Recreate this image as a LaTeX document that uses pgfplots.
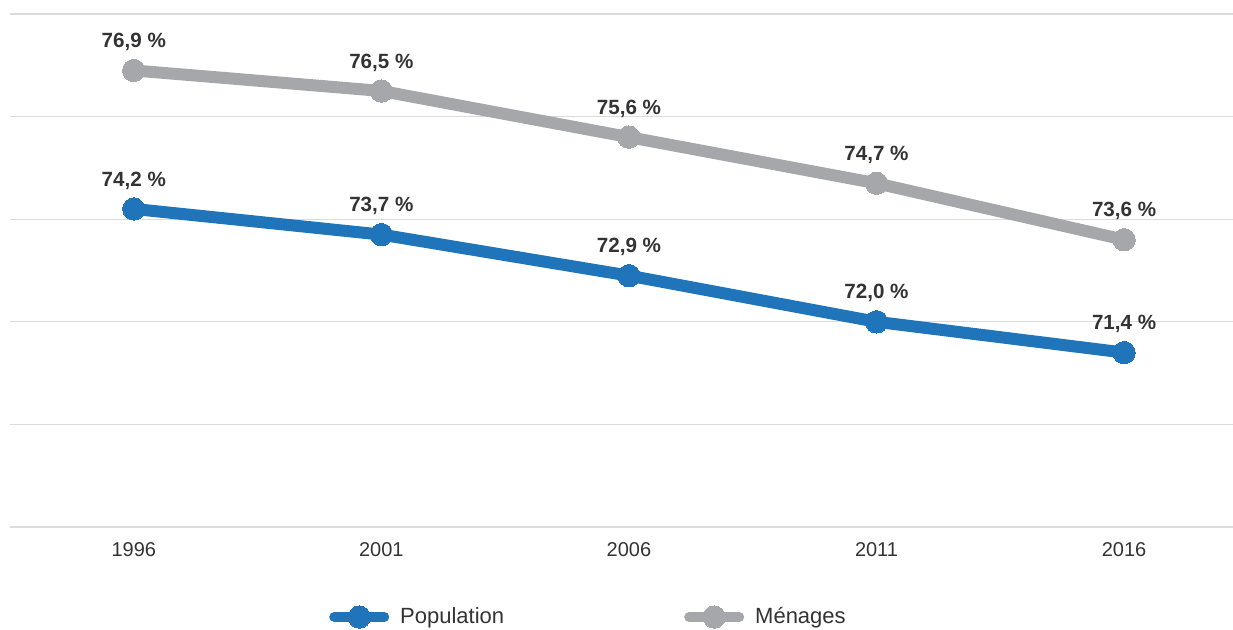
\documentclass[border=0pt]{standalone}
\usepackage{pgfplots}
\pgfplotsset{compat=1.18}
\usepackage{fontspec}
\setmainfont{Liberation Sans}
\definecolor{popblue}{HTML}{1F74BA}
\definecolor{mengrey}{HTML}{A6A7AB}
\definecolor{gridgrey}{HTML}{DCDCDC}
\definecolor{txt}{HTML}{333333}
\begin{document}
\begin{tikzpicture}
\useasboundingbox (-5pt,-51pt) rectangle (611.5pt,263.5pt);
\begin{axis}[
  at={(0pt,0pt)}, anchor=south west,
  scale only axis, width=611.5pt, height=256.5pt,
  xmin=1993.5, xmax=2018.2, ymin=68, ymax=78,
  xtick={1996,2001,2006,2011,2016},
  ytick={68,70,72,74,76,78}, yticklabels={},
  ymajorgrids, grid style={gridgrey, line width=0.6pt},
  axis line style={draw=none}, tick style={draw=none},
  /pgf/number format/assume math mode=true,
  /pgf/number format/1000 sep={},
  xticklabel style={font=\fontsize{10}{12}\selectfont, text=txt, yshift=-4pt},
  clip=false,
  nodes near coords={\pgfmathprintnumber[fixed, fixed zerofill, precision=1, use comma]{\pgfplotspointmeta} \%},
  every node near coord/.append style={font=\fontsize{10.3}{12}\selectfont\bfseries, text=txt, yshift=6.5pt},
  legend columns=2,
  legend style={draw=none, fill=none, at={(0.2607,-0.1754)}, anchor=west, inner sep=0pt,
    font=\fontsize{11}{13}\selectfont, text=txt,
    /tikz/every odd column/.append style={column sep=3.5pt},
    /tikz/every even column/.append style={column sep=88pt}},
  legend cell align=left,
  legend image code/.code={\draw[mark repeat=2, mark phase=2, line width=5pt, line cap=round] plot coordinates {(0pt,0pt) (12.5pt,0pt) (25pt,0pt)};},
]
\addplot[popblue, line width=6pt, mark=*, mark size=5.6pt, mark options={line width=0pt}] coordinates {
(1996,74.2) (2001,73.7) (2006,72.9) (2011,72.0) (2016,71.4)};
\addlegendentry{Population}
\addplot[mengrey, line width=6pt, mark=*, mark size=5.6pt, mark options={line width=0pt}] coordinates {
(1996,76.9) (2001,76.5) (2006,75.6) (2011,74.7) (2016,73.6)};
\addlegendentry{Ménages}
\end{axis}
\end{tikzpicture}
\end{document}
